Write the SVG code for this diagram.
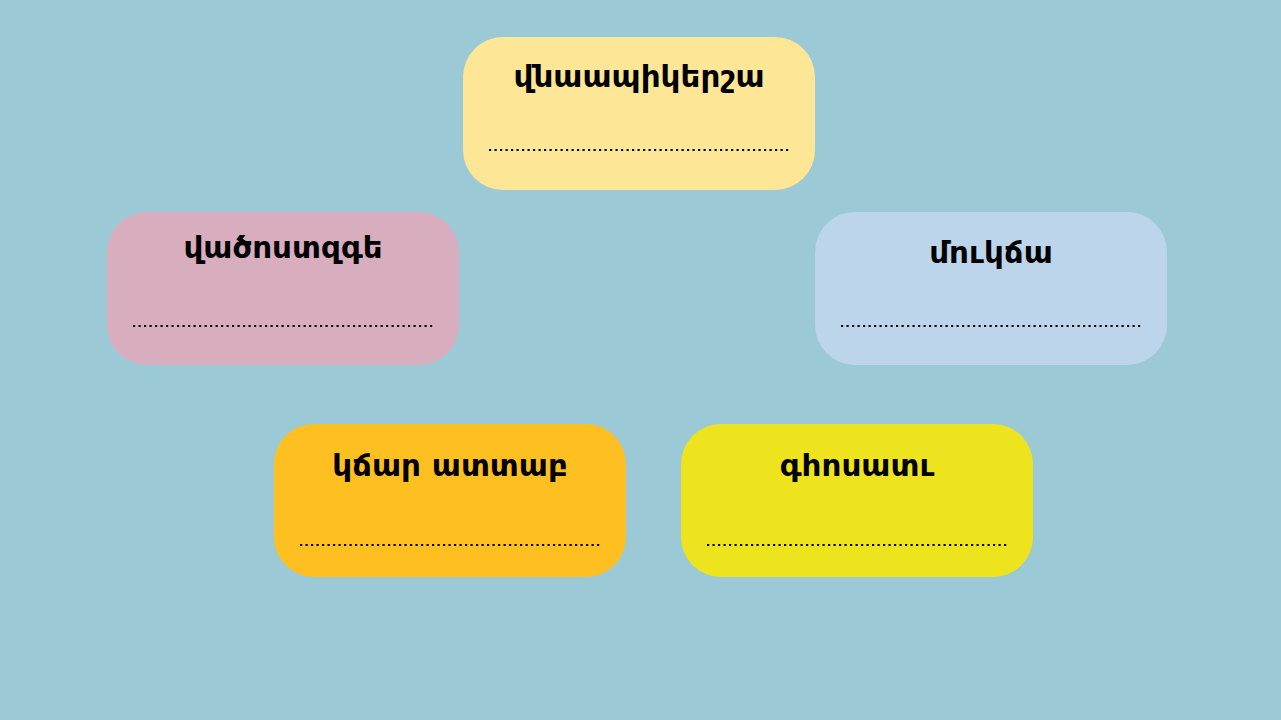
<svg xmlns="http://www.w3.org/2000/svg" width="1281" height="720" viewBox="0 0 1281 720">
<style>
.box{stroke:none}
.t{font-family:"DejaVu Sans","Noto Sans",sans-serif;font-weight:bold;font-size:31px;fill:#000;text-anchor:middle}
.dots{stroke:#000;stroke-width:2.2;stroke-dasharray:2.2 3.3}
</style>
<rect width="1281" height="720" fill="#9BCAD6"/>
<g id="node1">
<rect class="box" x="463" y="37" width="352" height="153" rx="40" fill="#FEE697"/>
<text class="t" x="639" y="87">վնաապիկերշա</text>
<line class="dots" x1="489" y1="150" x2="790" y2="150"/>
</g>
<g id="node2">
<rect class="box" x="107" y="212" width="352" height="153" rx="40" fill="#D8AEBF"/>
<text class="t" x="283" y="258">վածոստզգե</text>
<line class="dots" x1="133" y1="326" x2="434" y2="326"/>
</g>
<g id="node3">
<rect class="box" x="815" y="212" width="352" height="153" rx="40" fill="#BDD5EA"/>
<text class="t" x="991" y="263">մուկճա</text>
<line class="dots" x1="841" y1="326" x2="1142" y2="326"/>
</g>
<g id="node4">
<rect class="box" x="274" y="424" width="352" height="153" rx="40" fill="#FEBF21"/>
<text class="t" x="450" y="476">կճար ատտաբ</text>
<line class="dots" x1="300" y1="545" x2="601" y2="545"/>
</g>
<g id="node5">
<rect class="box" x="681" y="424" width="352" height="153" rx="40" fill="#EEE41E"/>
<text class="t" x="857" y="476">գհոսատւ</text>
<line class="dots" x1="707" y1="545" x2="1008" y2="545"/>
</g>
<g id="connectors"></g>
</svg>
